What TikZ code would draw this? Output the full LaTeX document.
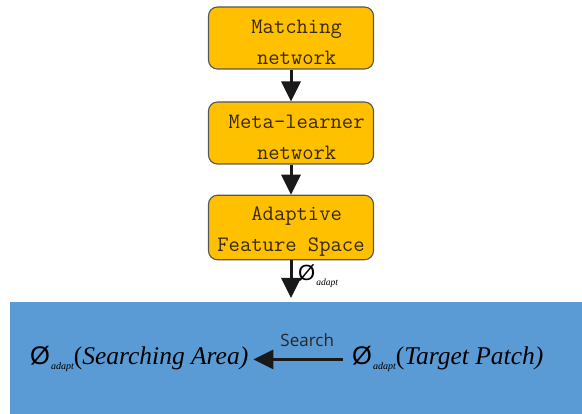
\documentclass[tikz,border=0pt]{standalone}
\usepackage{fontspec}
\setmainfont{Liberation Serif}
\newfontfamily\boxfont{Latin Modern Mono}
\newfontfamily\slashfont{Liberation Sans}
\newfontfamily\labelfont{Open Sans}
\usetikzlibrary{arrows.meta,positioning}
\definecolor{boxfill}{RGB}{255,192,0}
\definecolor{boxline}{RGB}{85,85,85}
\definecolor{boxtext}{RGB}{55,42,10}
\definecolor{panel}{RGB}{91,155,213}
\tikzset{
  stage/.style={draw=boxline, line width=1.1pt, fill=boxfill, rounded corners=9pt,
    minimum width=165pt, minimum height=62pt, align=center, text=boxtext,
    font=\boxfont\fontsize{22}{31}\selectfont},
  flow/.style={line width=3pt, -{Triangle[width=19pt,length=20pt]}, black!90},
  feat/.style={inner sep=0pt, anchor=base west, font=\fontsize{25.5}{25.5}\selectfont}
}
% first-line strut, pushes the two lines a little lower in the box
\newcommand{\lowr}{\rule{0pt}{22pt}}
\newcommand{\phiad}[1][10]{{\slashfont Ø}\hspace{1pt}\raisebox{-5pt}{\fontsize{#1}{#1}\selectfont\itshape adapt}}

\begin{document}
\begin{tikzpicture}[x=1pt,y=-1pt]
  \useasboundingbox (0,0) rectangle (582,414);

  % three stages
  \node [stage] (match) at (291,38) {\lowr\ Matching\\\ network};
  \node [stage] (meta) at (291,133) {\lowr\ Meta-learner\\\ network};
  \node [stage] (space) at (291,227.5) {\lowr\ Adaptive\\Feature Space};
  \coordinate (bottom) at (291,298);

  \draw [flow] (match) -- (meta);
  \draw [flow] (meta) -- (space);
  \draw [flow] (space) -- (bottom);
  \node [anchor=west, inner sep=0pt, font=\fontsize{22}{22}\selectfont] at (298,276) {\phiad[9.5]};

  % search panel
  \fill [panel] (10,302) rectangle (582,414);
  \node [feat] (area) at (30,365) {\phiad(\itshape Searching Area\/)};
  \node [feat] (patch) at (352,365) {\phiad(\itshape Target Patch\/)};
  \draw [flow, shorten >=5pt, shorten <=9pt] (patch.west) -- (area.east)
    node [midway, above=8pt, xshift=7pt, font=\labelfont\fontsize{17}{17}\selectfont, text=black!85] {Search};
\end{tikzpicture}
\end{document}
